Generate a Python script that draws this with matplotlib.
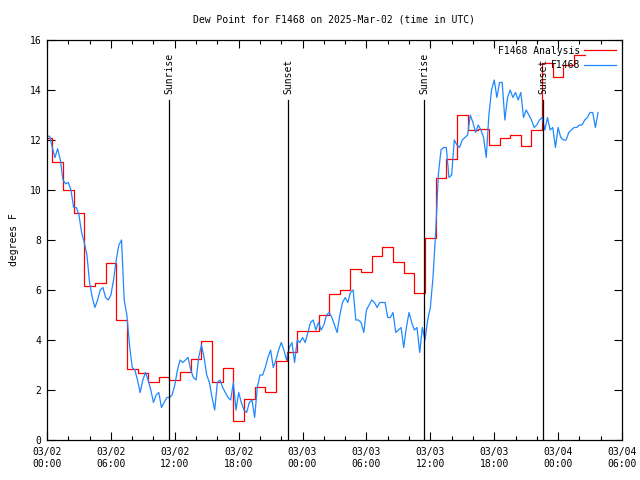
import numpy as np
import matplotlib
matplotlib.use("Agg")
import matplotlib.pyplot as plt
import matplotlib.dates as mdates
from datetime import datetime, timedelta

# ---------------- data ----------------
start = datetime(2025, 3, 2, 0, 0)
x_end = datetime(2025, 3, 4, 6, 0)

# hourly analysis values (hours since 03/02 00:00)
red_hours = np.arange(51)
red_vals = [12.08, 11.1, 9.99, 9.07, 6.16, 6.27, 7.07, 4.8, 2.83, 2.69,
            2.31, 2.51, 2.39, 2.71, 3.23, 3.98, 2.33, 2.87, 0.76, 1.63,
            2.13, 1.93, 3.17, 3.51, 4.37, 4.36, 4.99, 5.83, 6.0, 6.83,
            6.71, 7.37, 7.72, 7.11, 6.69, 5.87, 8.07, 10.47, 11.23, 13.0,
            12.4, 12.43, 11.79, 12.09, 12.2, 11.75, 12.4, 15.07, 14.5, 15.0,
            15.4]

# observations every 15 minutes
obs_step_h = 0.25
obs_vals = [12.15, 12.15, 11.7, 11.3, 11.65, 11.2, 10.4, 10.25, 10.3, 10.0,
            9.3, 9.3, 9.0, 8.3, 7.9, 7.4, 6.3, 5.7, 5.3, 5.6,
            6.0, 6.1, 5.7, 5.6, 5.8, 6.4, 7.2, 7.8, 8.0, 5.6,
            5.0, 3.8, 2.9, 2.8, 2.4, 1.9, 2.4, 2.7, 2.4, 2.0,
            1.5, 1.8, 1.9, 1.3, 1.5, 1.7, 1.7, 1.8, 2.2, 2.8,
            3.2, 3.1, 3.2, 3.3, 2.8, 2.5, 2.4, 3.3, 3.8, 3.3,
            2.6, 2.3, 1.7, 1.2, 2.3, 2.4, 2.1, 1.9, 1.7, 1.6,
            2.3, 1.2, 1.9, 1.5, 1.2, 1.1, 1.5, 1.6, 0.9, 2.1,
            2.6, 2.6, 2.9, 3.3, 3.6, 2.9, 3.2, 3.6, 3.9, 3.6,
            3.2, 3.7, 3.9, 3.1, 4.0, 3.9, 4.1, 3.9, 4.3, 4.7,
            4.8, 4.4, 4.7, 4.4, 4.6, 5.0, 5.1, 4.9, 4.6, 4.3,
            5.0, 5.5, 5.7, 5.5, 5.9, 6.0, 4.8, 4.8, 4.7, 4.3,
            5.2, 5.4, 5.6, 5.5, 5.3, 5.5, 5.5, 5.5, 4.9, 4.9,
            5.1, 4.3, 4.4, 4.5, 3.7, 4.5, 5.1, 4.7, 4.4, 4.5,
            3.5, 4.5, 4.0, 4.8, 5.3, 6.5, 8.3, 10.6, 11.6, 11.7,
            11.7, 10.5, 10.6, 12.0, 11.8, 11.7, 12.0, 12.1, 12.2, 13.0,
            12.7, 12.3, 12.6, 12.4, 12.1, 11.3, 13.0, 14.0, 14.4, 13.7,
            14.3, 14.3, 12.8, 13.7, 14.0, 13.7, 13.9, 13.6, 13.9, 12.9,
            13.2, 13.0, 12.8, 12.5, 12.6, 12.8, 12.9, 12.4, 12.9, 12.4,
            12.5, 11.7, 12.5, 12.1, 12.0, 12.0, 12.3, 12.4, 12.5, 12.5,
            12.6, 12.6, 12.8, 12.9, 13.1, 13.1, 12.5, 13.1]

sun_labels = ["Sunrise", "Sunset", "Sunrise", "Sunset"]
sun_hours = [11.49, 22.66, 35.44, 46.61]
sun_top = 13.6

title = "Dew Point for F1468 on 2025-Mar-02 (time in UTC)"
ylabel = "degrees F"
legend_labels = ["F1468 Analysis", "F1468"]

# ---------------- plot ----------------
font = "DejaVu Sans Mono"
fs = 7
plt.rcParams["font.family"] = font
plt.rcParams["font.size"] = fs

fig = plt.figure(figsize=(6.4, 4.8), dpi=100)
ax = fig.add_axes([47 / 640, 1 - 440 / 480, 575 / 640, 400 / 480])

to_dt = lambda h: start + timedelta(hours=float(h))

edges = np.concatenate([[0.0], red_hours[1:] - 0.5, [red_hours[-1] + 0.5]])
red_plot = np.append(red_vals, red_vals[-1])
ax.plot([to_dt(h) for h in edges], red_plot, color="#ff0000", lw=0.9,
        drawstyle="steps-post", label=legend_labels[0])

obs_hours = np.arange(len(obs_vals)) * obs_step_h
ax.plot([to_dt(h) for h in obs_hours], obs_vals, color="#1e88ff", lw=0.9,
        label=legend_labels[1])

for lab, h in zip(sun_labels, sun_hours):
    t = to_dt(h)
    ax.plot([t, t], [0, sun_top], color="black", lw=0.9)
    ax.text(t, sun_top + 0.25, lab, rotation=90, ha="center", va="bottom",
            fontsize=fs)

ax.set_xlim(start, x_end)
ax.set_ylim(0, 16)
ax.set_yticks(np.arange(0, 17, 2))
ax.xaxis.set_major_locator(mdates.HourLocator(byhour=[0, 6, 12, 18]))
ax.xaxis.set_minor_locator(mdates.HourLocator(byhour=range(0, 24, 2)))
ax.xaxis.set_major_formatter(mdates.DateFormatter("%m/%d\n%H:%M"))

ax.tick_params(which="both", direction="in", top=True, right=True,
               labelsize=fs, width=0.8)
ax.tick_params(which="major", length=6, pad=5)
ax.tick_params(which="minor", length=3)
ax.tick_params(axis="y", pad=4)
for sp in ax.spines.values():
    sp.set_linewidth(0.9)

ax.set_ylabel(ylabel, fontsize=fs, labelpad=8)
fig.text(334 / 640, 1 - 19 / 480, title, ha="center", va="center", fontsize=fs)

leg = ax.legend(loc="upper right", frameon=False, markerfirst=False,
                fontsize=fs, handlelength=3.3, handletextpad=0.4,
                labelspacing=0.45, borderaxespad=0.3, borderpad=0.3)

fig.savefig("out.png", dpi=100)
